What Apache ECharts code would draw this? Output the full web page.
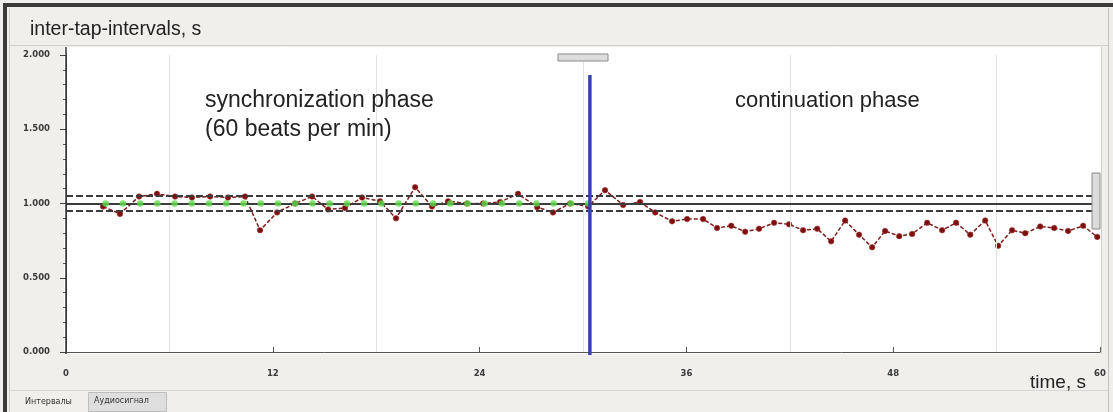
<!DOCTYPE html>
<html>
<head>
<meta charset="utf-8">
<script src="https://cdn.jsdelivr.net/npm/echarts@6/dist/echarts.min.js"></script>
<style>
html,body{margin:0;padding:0;background:#f0efec;}
#chart{width:1113px;height:412px;}
</style>
</head>
<body>
<div id="chart"></div>
<script>
// ---- data ----
const xTicks = [0, 12, 24, 36, 48, 60];
const yTicks = [0, 0.5, 1.0, 1.5, 2.0];
const gridTimes = [6, 18, 30, 42, 54];
const refLevel = 1.0;
const toleranceLevels = [1.05, 0.95];

// metronome (stimulus) times in sync phase and their interval (1 s)
const metronomeTimes = [2.3, 3.3, 4.3, 5.3, 6.3, 7.3, 8.3, 9.3, 10.3, 11.3, 12.3, 13.3, 14.3, 15.3, 16.3, 17.3, 18.3, 19.3, 20.3, 21.3, 22.3, 23.3, 24.3, 25.3, 26.3, 27.3, 28.3, 29.3, 30.3];
const metronomeValues = [1.0, 1.0, 1.0, 1.0, 1.0, 1.0, 1.0, 1.0, 1.0, 1.0, 1.0, 1.0, 1.0, 1.0, 1.0, 1.0, 1.0, 1.0, 1.0, 1.0, 1.0, 1.0, 1.0, 1.0, 1.0, 1.0, 1.0, 1.0, 1.0];

// tap times and inter-tap intervals
const tapTimes = [2.15, 3.13, 4.24, 5.28, 6.33, 7.31, 8.36, 9.40, 10.39, 11.26, 12.25, 13.29, 14.28, 15.21, 16.19, 17.18, 18.22, 19.15, 20.26, 21.24, 22.17, 23.27, 24.20, 25.19, 26.23, 27.34, 28.26, 29.25, 30.30,
  31.28, 32.33, 33.31, 34.19, 35.17, 36.04, 36.97, 37.78, 38.60, 39.41, 40.22, 41.09, 41.96, 42.77, 43.59, 44.40, 45.21, 46.02, 46.78, 47.53, 48.35, 49.10, 49.97, 50.84, 51.65, 52.47, 53.34, 54.09, 54.90, 55.66, 56.53, 57.34, 58.15, 59.02, 59.84];
const tapIntervals = [0.98, 0.93, 1.047, 1.065, 1.047, 1.04, 1.047, 1.04, 1.047, 0.82, 0.94, 1.0, 1.047, 0.96, 0.97, 1.04, 1.015, 0.90, 1.11, 0.98, 1.015, 1.0, 1.0, 1.01, 1.065, 0.975, 0.94, 1.0, 0.98,
  1.09, 0.99, 1.01, 0.94, 0.88, 0.895, 0.895, 0.835, 0.85, 0.81, 0.83, 0.87, 0.86, 0.82, 0.83, 0.745, 0.885, 0.79, 0.705, 0.815, 0.78, 0.795, 0.87, 0.82, 0.87, 0.79, 0.885, 0.715, 0.82, 0.80, 0.845, 0.835, 0.815, 0.85, 0.775];

// phase boundary
const phaseBoundaryTime = 30.4;
const phaseBoundaryRange = [1.865, -0.02];

const titleText = 'inter-tap-intervals, s';
const syncLabel = ['synchronization phase', '(60 beats per min)'];
const contLabel = 'continuation phase';
const xAxisName = 'time, s';
const tabLabels = ['Интервалы', 'Аудиосигнал'];

// ---- chart ----
const chart = echarts.init(document.getElementById('chart'), null, {renderer: 'canvas'});
const tickFont = {fontFamily: 'DejaVu Sans', fontWeight: 'bold', fontSize: 8.5, color: '#3a3a3a'};

const option = {
  animation: false,
  backgroundColor: '#f0efec',
  grid: {left: 66, right: 13, top: 55, bottom: 60, containLabel: false},
  xAxis: {
    type: 'value', min: xTicks[0], max: xTicks[xTicks.length - 1], interval: xTicks[1] - xTicks[0],
    offset: 8,
    axisLine: {show: true, lineStyle: {color: '#555', width: 1}},
    axisTick: {show: true, inside: true, length: 5, lineStyle: {color: '#555'}},
    minorTick: {show: true, splitNumber: 2, length: 4, lineStyle: {color: '#555'}},
    splitLine: {show: false},
    axisLabel: Object.assign({margin: 9}, tickFont)
  },
  yAxis: {
    type: 'value', min: yTicks[0], max: yTicks[yTicks.length - 1], interval: yTicks[1] - yTicks[0],
    offset: 3,
    axisLine: {show: true, lineStyle: {color: '#444', width: 1}},
    axisTick: {show: true, length: 6, lineStyle: {color: '#444'}},
    minorTick: {show: true, splitNumber: 5, length: 3, lineStyle: {color: '#555'}},
    splitLine: {show: false},
    axisLabel: Object.assign({margin: 13, formatter: v => v.toFixed(3)}, tickFont)
  },
  series: [
    {
      name: 'grid', type: 'line', data: [], silent: true,
      markLine: {
        silent: true, symbol: 'none', label: {show: false},
        lineStyle: {color: '#e3e3e3', width: 1, type: 'solid'},
        data: gridTimes.map(t => ({xAxis: t}))
      }
    },
    {
      name: 'ref', type: 'line', data: [], silent: true, z: 3,
      markLine: {
        silent: true, symbol: 'none', label: {show: false},
        data: [
          {yAxis: refLevel, lineStyle: {color: '#3c3c3c', width: 2, type: 'solid'}},
          ...toleranceLevels.map(v => ({yAxis: v, lineStyle: {color: '#3c3c3c', width: 2, type: [7, 3]}}))
        ]
      }
    },
    {
      name: 'taps', type: 'line', z: 4,
      data: tapTimes.map((t, i) => [t, tapIntervals[i]]),
      symbol: 'circle', symbolSize: 5.5,
      itemStyle: {color: '#7a1010', borderColor: '#a83030', borderWidth: 0.6},
      lineStyle: {color: '#7d1c1c', width: 1.5, type: [4, 2]}
    },
    {
      name: 'metronome', type: 'scatter', z: 5,
      data: metronomeTimes.map((t, i) => [t, metronomeValues[i]]),
      symbol: 'circle', symbolSize: 6.5,
      itemStyle: {color: '#5fd94a'}
    },
    {
      name: 'boundary', type: 'line', z: 6, clip: false,
      data: phaseBoundaryRange.map(v => [phaseBoundaryTime, v]),
      symbol: 'none',
      lineStyle: {color: '#3b40b0', width: 3.5}
    }
  ],
  graphic: [
    // outer frame
    {type: 'line', z: 100, shape: {x1: 3, y1: 5, x2: 1113, y2: 5}, style: {stroke: '#3a3a3a', lineWidth: 4}},
    {type: 'line', z: 100, shape: {x1: 5, y1: 3, x2: 5, y2: 412}, style: {stroke: '#3a3a3a', lineWidth: 4}},
    {type: 'line', z: -5, shape: {x1: 1108.5, y1: 8, x2: 1108.5, y2: 412}, style: {stroke: '#c2c2c2', lineWidth: 1}},
    {type: 'line', z: -5, shape: {x1: 9.5, y1: 8, x2: 9.5, y2: 412}, style: {stroke: '#d0d0d0', lineWidth: 1}},
    // title separator
    {type: 'line', z: -5, shape: {x1: 10, y1: 45.5, x2: 1108, y2: 45.5}, style: {stroke: '#cfcfcf', lineWidth: 1}},
    // white plot panel
    {type: 'rect', z: -10, shape: {x: 64, y: 47, width: 1037, height: 307}, style: {fill: '#ffffff'}},
    {type: 'line', z: 10, shape: {x1: 66, y1: 47, x2: 66, y2: 354}, style: {stroke: '#333', lineWidth: 1.5}},
    {type: 'line', z: -5, shape: {x1: 1101.5, y1: 47, x2: 1101.5, y2: 354}, style: {stroke: '#d0d0d0', lineWidth: 1}},
    // scroll handles
    {type: 'rect', z: 10, shape: {x: 558, y: 54, width: 50, height: 7}, style: {fill: '#dcdcdc', stroke: '#8a8a8a', lineWidth: 1}},
    {type: 'rect', z: 10, shape: {x: 1092, y: 173, width: 8, height: 56}, style: {fill: '#dcdcdc', stroke: '#8a8a8a', lineWidth: 1}},
    // title
    {type: 'text', z: 20, left: 30, top: 20, style: {text: titleText, font: '19.5px "Liberation Sans", Arial, sans-serif', fill: '#222'}},
    // phase labels
    {type: 'text', z: 20, left: 205, top: 89, style: {text: syncLabel[0], font: '23px "Liberation Sans", Arial, sans-serif', fill: '#222'}},
    {type: 'text', z: 20, left: 205, top: 118, style: {text: syncLabel[1], font: '23px "Liberation Sans", Arial, sans-serif', fill: '#222'}},
    {type: 'text', z: 20, left: 735, top: 90, style: {text: contLabel, font: '22px "Liberation Sans", Arial, sans-serif', fill: '#222'}},
    // axis name
    {type: 'text', z: 20, left: 1030, top: 373, style: {text: xAxisName, font: '19px "Liberation Sans Narrow", "Liberation Sans", Arial, sans-serif', fill: '#222'}},
    // tabs
    {type: 'line', z: -5, shape: {x1: 10, y1: 390.5, x2: 1108, y2: 390.5}, style: {stroke: '#d6d6d6', lineWidth: 1}},
    {type: 'rect', z: 5, shape: {x: 88.5, y: 392.5, width: 78, height: 19}, style: {fill: '#dedede', stroke: '#bdbdbd', lineWidth: 1}},
    {type: 'text', z: 20, left: 25, top: 398, style: {text: tabLabels[0], font: '8px "DejaVu Sans", sans-serif', fill: '#333'}},
    {type: 'text', z: 20, left: 94, top: 397, style: {text: tabLabels[1], font: '8px "DejaVu Sans", sans-serif', fill: '#333'}}
  ]
};
chart.setOption(option);
</script>
</body>
</html>
